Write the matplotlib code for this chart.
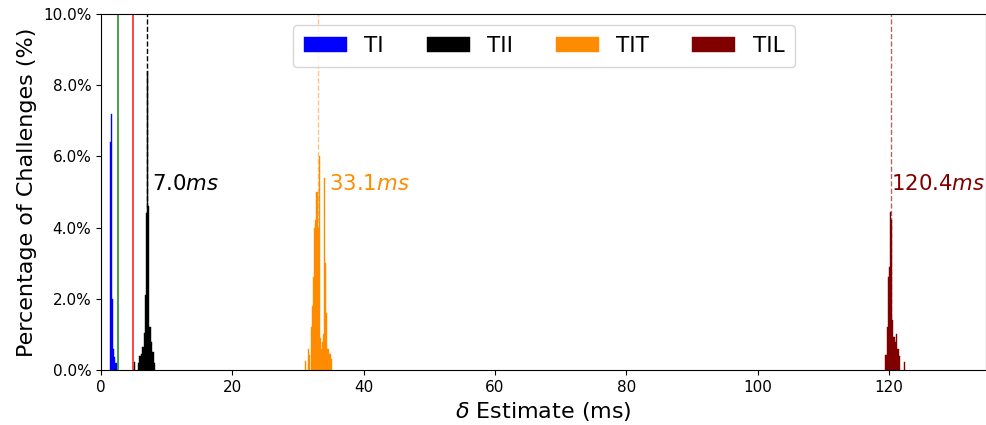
import matplotlib
matplotlib.use("Agg")
import matplotlib.pyplot as plt
from matplotlib.ticker import FuncFormatter

# Histogram bins (ms) and percentages of challenges
ti_x = [1.45, 1.60, 1.75, 1.90, 2.05, 2.21, 2.36]
ti_y = [6.4, 7.2, 2.0, 0.6, 0.37, 0.2, 0.2]

tii_x = [5.10, 5.70, 5.85, 6.00, 6.15, 6.30, 6.45, 6.60, 6.75, 6.90, 7.05, 7.20, 7.35, 7.50, 7.65, 7.80, 7.95, 8.10]
tii_y = [0.23, 0.2, 0.4, 0.4, 0.45, 0.65, 0.65, 1.04, 2.1, 4.4, 8.4, 4.6, 1.2, 1.2, 0.8, 0.5, 0.5, 0.2]

tit_x = [31.13, 31.58, 31.74, 32.04, 32.19, 32.34, 32.50, 32.65, 32.80, 32.95, 33.10, 33.25,
         33.40, 33.56, 33.71, 33.86, 34.01, 34.16, 34.31, 34.47, 34.62, 34.77, 34.92, 35.07]
tit_y = [0.25, 0.6, 0.42, 1.2, 1.8, 2.6, 4.0, 4.2, 5.0, 5.0, 4.0, 6.0,
         0.9, 0.6, 0.8, 1.0, 5.4, 3.0, 1.6, 0.6, 0.6, 0.45, 0.45, 0.3]

til_x = [119.50, 119.65, 119.80, 119.95, 120.10, 120.26, 120.41, 120.56, 120.71, 120.87, 121.02, 121.17,
         121.32, 121.47, 121.63, 122.39]
til_y = [0.42, 0.42, 1.2, 2.6, 2.9, 4.45, 4.2, 1.4, 0.94, 0.94, 0.8, 1.0, 0.6, 0.6, 0.4, 0.23]

series_names = ["TI", "TII", "TIT", "TIL"]
series_colors = ["blue", "black", "darkorange", "maroon"]
means = [None, 7.0, 33.1, 120.4]
label_x = [None, 7.8, 34.7, 120.3]
threshold_lines = [2.63, 4.83]
threshold_colors = ["green", "red"]

fig = plt.figure(figsize=(9.86, 4.25), dpi=100)
ax = fig.add_axes([101 / 986, 55 / 425, 885 / 986, 356 / 425])

data = [(ti_x, ti_y), (tii_x, tii_y), (tit_x, tit_y), (til_x, til_y)]
for (xs, ys), name, c in zip(data, series_names, series_colors):
    ax.bar(xs, ys, width=0.152, color=c, edgecolor=c, linewidth=0.3, label=name)

for xv, c in zip(threshold_lines, threshold_colors):
    ax.axvline(xv, color=c, lw=1.2, alpha=0.85)

dash_alpha = [None, 1.0, 0.5, 0.6]
for m, lx, c, a in zip(means, label_x, series_colors, dash_alpha):
    if m is None:
        continue
    ax.axvline(m, color=c, lw=1.0, ls="--", alpha=a)
    ax.text(lx, 5.05, f"${m:.1f}ms$", color=c, fontsize=15.3, ha="left", va="baseline")

ax.set_xlim(0, 134.8)
ax.set_ylim(0, 10)
ax.set_xticks([0, 20, 40, 60, 80, 100, 120])
ax.set_yticks([0, 2, 4, 6, 8, 10])
ax.yaxis.set_major_formatter(FuncFormatter(lambda v, p: f"{v:.1f}%"))
ax.tick_params(labelsize=11)
ax.set_xlabel(r"$\delta$ Estimate (ms)", fontsize=16)
ax.set_ylabel("Percentage of Challenges (%)", fontsize=16)

ax.legend(loc="upper center", ncol=4, fontsize=15.5, handlelength=2.0, columnspacing=2.0,
          borderpad=0.5, borderaxespad=0, bbox_to_anchor=(0.5006, 0.968))

fig.savefig("out.png", dpi=100)
